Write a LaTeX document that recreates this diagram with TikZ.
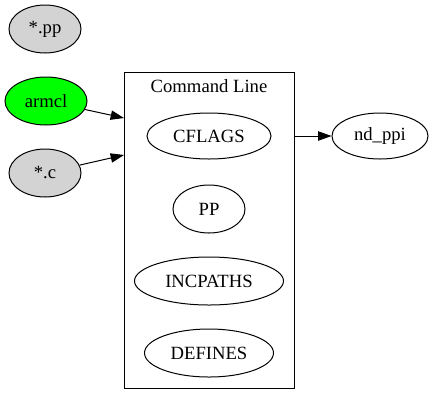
\documentclass[tikz,border=0pt]{standalone}
\usepackage{fontspec}
\setmainfont{Liberation Serif}
\usetikzlibrary{shapes.geometric,arrows.meta}
\definecolor{nodegrey}{RGB}{211,211,211}
\definecolor{nodegreen}{RGB}{0,255,0}
\tikzset{every picture/.style={line width=0.75pt}}
\tikzset{
  oval/.style={draw, ellipse, inner sep=0pt, minimum height=36pt, font=\fontsize{14}{16}\selectfont},
  label text/.style={inner sep=0.75pt, font=\fontsize{14}{16}\selectfont},
  edge/.style={-{Triangle[length=10pt,width=7pt]}},
}
\begin{document}
\begin{tikzpicture}[x=0.75pt,y=0.75pt,yscale=-1,xscale=1]
\useasboundingbox (0,0) rectangle (434,404);

%Shape: Rectangle (cluster)
\node [draw, inner sep=0pt, minimum width=127.5pt, minimum height=237pt] (cmdline) at (209,230) {};
% Text Node
\node [label text] (cmdlabel) at (209,86) {Command Line};

%Shape: Ellipse
\node [oval, fill=nodegrey, minimum width=54pt] (pp) at (45,29) {*.pp};
%Shape: Ellipse
\node [oval, fill=nodegreen, minimum width=61.5pt] (armcl) at (46,101) {armcl};
%Shape: Ellipse
\node [oval, fill=nodegrey, minimum width=54pt] (csrc) at (45,173) {*.c};

%Shape: Ellipse
\node [oval, minimum width=93pt, minimum height=34.5pt] (cflags) at (209,136) {CFLAGS};
%Shape: Ellipse
\node [oval, minimum width=54pt] (ppvar) at (209,209) {PP};
%Shape: Ellipse
\node [oval, minimum width=111.75pt] (incpaths) at (209,281) {INCPATHS};
%Shape: Ellipse
\node [oval, minimum width=96.75pt] (defines) at (209,353) {DEFINES};

%Shape: Ellipse
\node [oval, minimum width=72pt, minimum height=34.5pt] (ndppi) at (380,136) {nd\_ppi};

%Straight Lines
\coordinate (cmdin1) at (124,118);
\coordinate (cmdin2) at (124,155);
\draw [edge] (armcl) -- (cmdin1);
\draw [edge] (csrc) -- (cmdin2);
\draw [edge] (cmdline.east |- cflags) -- (ndppi);

\end{tikzpicture}
\end{document}
